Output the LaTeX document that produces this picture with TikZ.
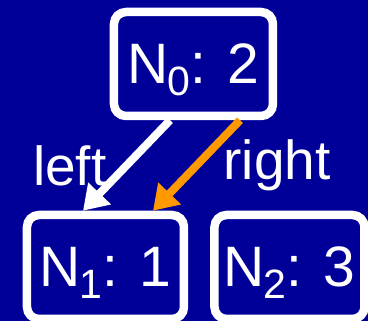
\documentclass[tikz,border=0pt]{standalone}
\usepackage{fontspec}
\setmainfont{Liberation Sans}
\usetikzlibrary{arrows.meta, positioning}
\definecolor{bgblue}{HTML}{000099}
\definecolor{rightorange}{HTML}{FF9900}
\newcommand{\nsub}[1]{\kern-1pt\raisebox{-12pt}[0pt][0pt]{\fontsize{41}{41}\selectfont #1}}

\begin{document}
\begin{tikzpicture}[
  x=1pt, y=1pt,
  node distance=22pt,
  treenode/.style={rectangle, rounded corners=12pt, draw=white, line width=8.5pt, fill=bgblue,
                minimum height=104pt, inner sep=0pt, text=white, font=\fontsize{57}{60}\selectfont},
  branch/.style={-{Triangle[length=24pt, width=30pt]}, line width=8pt},
  lbl/.style={text=white, inner sep=0pt, font=\fontsize{55}{58}\selectfont}
]
  \useasboundingbox[fill=bgblue] (0,0) rectangle (368,321);

  \node[treenode, minimum width=159pt] (n0) at (193.5,257) {N\nsub{0}: 2};
  \node[treenode, minimum width=157pt] (n1) at (105.5,54) {N\nsub{1}: 1};
  \node[treenode, minimum width=150pt, right=of n1] (n2) {N\nsub{2}: 3};

  \draw[branch, white] ([xshift=-23.5pt]n0.south) -- node[lbl, left=16pt]{left} ([xshift=-22.5pt]n1.north);
  \draw[branch, rightorange] ([xshift=46.5pt]n0.south) -- node[lbl, right=23pt]{right} ([xshift=47.5pt]n1.north);
\end{tikzpicture}
\end{document}
